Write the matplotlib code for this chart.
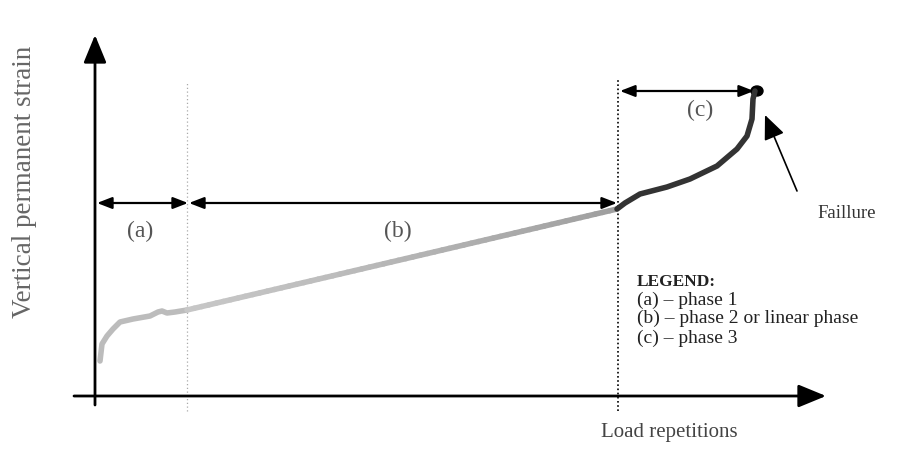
import numpy as np
import matplotlib
matplotlib.use("Agg")
import matplotlib.pyplot as plt
from matplotlib.collections import LineCollection
from matplotlib.patches import Ellipse

# Schematic data (load repetitions, vertical permanent strain) in chart units
phase1_x = [5, 7, 12, 18, 25, 38, 55, 63, 67, 72, 80, 92]
phase1_y = [35, 52, 60, 67, 74, 77, 80, 84, 85, 83, 84, 86]
phase2_x = [92, 522]
phase2_y = [86, 187]
phase3_x = [522, 530, 545, 572, 595, 622, 642, 652, 657, 658, 660]
phase3_y = [187, 193, 202, 209, 217, 230, 247, 260, 277, 297, 305]
failure_point = (662, 305)
boundary_ab = 92
boundary_bc = 523
arrow_level_ab = 193
arrow_level_c = 305

fig = plt.figure(figsize=(8.99, 4.56), dpi=100)
ax = fig.add_axes([0, 0, 1, 1])
ax.set_xlim(-95, 804)
ax.set_ylim(-59, 397)
ax.axis("off")

serif = ["Liberation Serif", "DejaVu Serif"]

# axes with arrows
ax.annotate("", xy=(0, 361), xytext=(0, -9),
            arrowprops=dict(arrowstyle="-|>,head_length=1.7,head_width=0.7", lw=2, color="black",
                            shrinkA=0, shrinkB=0))
ax.annotate("", xy=(731, 0), xytext=(-21, 0),
            arrowprops=dict(arrowstyle="-|>,head_length=1.7,head_width=0.7", lw=2, color="black",
                            shrinkA=0, shrinkB=0))

# dotted boundaries
ax.plot([boundary_ab, boundary_ab], [-15, 314], ls=(0, (1, 2)), color="#aaaaaa", lw=0.9)
ax.plot([boundary_bc, boundary_bc], [-15, 317], ls=(0, (1, 1.5)), color="black", lw=1.2)

# curve
ax.plot(phase1_x, phase1_y, color="#bcbcbc", lw=4, solid_capstyle="round", solid_joinstyle="round")
n = 60
xs = np.linspace(phase2_x[0], phase2_x[1], n)
ys = np.interp(xs, phase2_x, phase2_y)
pts = np.array([xs, ys]).T.reshape(-1, 1, 2)
segs = np.concatenate([pts[:-1], pts[1:]], axis=1)
cols = plt.cm.Greys(np.linspace(0.33, 0.47, n - 1))
ax.add_collection(LineCollection(segs, colors=cols, linewidths=4, capstyle="round"))
ax.plot(phase3_x, phase3_y, color="#333333", lw=4, solid_capstyle="round", solid_joinstyle="round")
ax.add_patch(Ellipse(failure_point, 12, 10, color="black"))

# phase arrows
arr = dict(arrowstyle="<|-|>,head_length=0.9,head_width=0.35", lw=1.6, color="black", shrinkA=0, shrinkB=0)
ax.annotate("", xy=(2, arrow_level_ab), xytext=(boundary_ab + 1, arrow_level_ab), arrowprops=arr)
ax.annotate("", xy=(boundary_ab + 2, arrow_level_ab), xytext=(boundary_bc - 1, arrow_level_ab), arrowprops=arr)
ax.annotate("", xy=(boundary_bc + 2, arrow_level_c), xytext=(failure_point[0] - 3, arrow_level_c), arrowprops=arr)

ax.text(45, 166, "(a)", fontsize=17, family=serif, color="#555555", ha="center", va="center")
ax.text(303, 166, "(b)", fontsize=17, family=serif, color="#555555", ha="center", va="center")
ax.text(605, 287, "(c)", fontsize=17, family=serif, color="#555555", ha="center", va="center")

# failure annotation
ax.annotate("", xy=(670, 281), xytext=(702, 205),
            arrowprops=dict(arrowstyle="-|>,head_length=1.5,head_width=0.65", lw=1.2, color="black",
                            shrinkA=0, shrinkB=0))
ax.text(752, 184, "Faillure", fontsize=13.5, family=serif, color="#333333", ha="center", va="center")

# legend text
ax.text(542, 115, "LEGEND:", fontsize=12.5, family=serif, weight="bold", color="#222222", ha="left", va="center")
ax.text(542, 97, "(a) – phase 1", fontsize=14, family=serif, color="#222222", ha="left", va="center")
ax.text(542, 79, "(b) – phase 2 or linear phase", fontsize=14, family=serif, color="#222222", ha="left", va="center")
ax.text(542, 59, "(c) – phase 3", fontsize=14, family=serif, color="#222222", ha="left", va="center")

# axis labels
ax.text(-70, 215, "Vertical permanent strain", fontsize=19.5, family=serif, color="#666666",
        rotation=90, ha="center", va="center")
ax.text(574, -36, "Load repetitions", fontsize=15, family=serif, color="#444444", ha="center", va="center")

fig.savefig("out.png", dpi=100)
